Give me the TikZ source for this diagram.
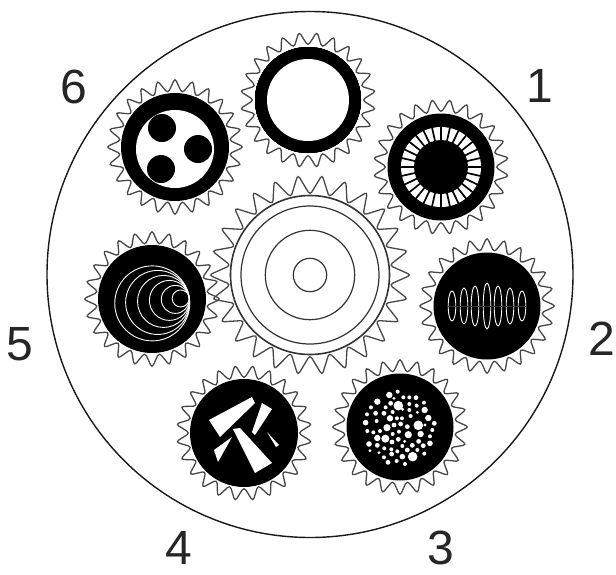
\documentclass[tikz,border=0pt]{standalone}
\usepackage{fontspec}
\setmainfont{Liberation Sans}
\tikzset{gearline/.style={draw=black!72,line width=1.3pt,rounded corners=3.5pt},
ringline/.style={draw=black!80,line width=1.2pt},
disk/.style={fill=black},
hole/.style={fill=white},
thinwhite/.style={draw=white,line width=.9pt},
numlabel/.style={font=\fontsize{48}{54}\selectfont,text=black!85,inner sep=0pt}}
\newcommand{\gearwheel}[6]{\pgfmathtruncatemacro{\lastno}{#5-1}
\draw[gearline,shift={(#1,#2)}] (#6:#3) \foreach \i in {1,...,\lastno}{ -- ({#6+(\i-.5)*360/#5}:#4) -- ({#6+\i*360/#5}:#3)} -- ({#6-180/#5}:#4) -- cycle;}
\begin{document}
\begin{tikzpicture}[x=1pt,y=-1pt]
\useasboundingbox (0,0) rectangle (616,574);
\draw[line width=1.4pt,black!90] (310,274.5) circle [radius=263];
\gearwheel{310}{275}{101}{80}{26}{0}
\foreach \r in {69,44.7,16.7} \draw[ringline] (310,275) circle [radius=\r];
\draw[ringline,line width=1.6pt] (310,275) circle [radius=79.5];
\foreach \x/\y/\a in {308/100/7.5,441/167/7.5,487/306/0,400/427/0,244/433/7.5,152/299/0,175/147/0}
  \gearwheel{\x}{\y}{69}{54}{24}{\a}
\fill[disk] (308,100) circle [radius=53];
\fill[hole] (308,100) circle [radius=41];
\fill[disk] (175,147) circle [radius=54];
\fill[hole] (175,149) circle [radius=39];
\foreach \x/\y in {162/128,198/149,161/169} \fill[disk] (\x,\y) circle [radius=14];
\fill[disk] (441,167) circle [radius=53.5];
\fill[hole] (441,167) circle [radius=40];
\fill[disk] (441,167) circle [radius=27];
\foreach \a in {0,...,27} \draw[black,line width=1.7pt] (441,167) -- ++({\a*360/28}:41);
\fill[disk] (487,306) circle [radius=53.5];
\foreach \x/\h in {452/15,464/18,475/20,487/23,498/20,510/18,522/15}
  \draw[thinwhite] (\x,306) ellipse [x radius=3.8,y radius=\h];
\draw[black!80,line width=.5pt] (447,306) -- (527,306);
\fill[disk] (400,427) circle [radius=53.5];
\begin{scope}[shift={(170,350)},x=.3333pt,y=-.3333pt]
\foreach \x/\y/\r in {658/135/8,683/125/5,700/142/5,718/142/5,738/143/6,622/155/8,672/145/4,685/167/12,662/160/6,647/172/5,718/162/5,740/167/5,762/158/5,764/180/8,603/172/5,617/190/6,591/193/5,668/186/5,642/190/6,698/178/4,718/180/5,742/187/4,775/204/8,722/198/5,587/218/7,620/213/5,660/205/8,681/205/5,696/205/5,745/226/12,793/220/6,765/225/4,787/240/5,672/225/6,692/222/6,712/230/6,651/233/9,630/243/5,592/243/5,610/247/5,622/264/8,646/266/10,668/252/5,687/245/5,715/254/9,752/252/8,780/259/5,597/282/7,622/286/6,600/302/4,643/295/5,666/276/6,685/268/6,704/274/4,727/286/6,746/274/6,760/287/6,780/280/7,664/298/5,682/304/5,697/288/5,712/300/6,742/300/5,627/308/4,642/322/5,665/312/6,697/320/7,728/320/12,763/311/5,654/337/6,680/333/5,705/342/5}
  \fill[hole] (\x,\y) circle [radius=\r*1.2];
\end{scope}
\fill[disk] (244,433) circle [radius=54];
\fill[hole] (209,420) -- (252,397) -- (255,403) -- (220,437) -- cycle;
\fill[hole] (262,403) -- (272,409) -- (255,435) -- (252,432) -- cycle;
\fill[hole] (233,429) -- (240,428) -- (272,463) -- (255,473) -- cycle;
\fill[hole] (267,432) -- (279,445) -- (276,447) -- cycle;
\fill[hole] (232,437) -- (218,462) -- (214,450) -- cycle;
\fill[disk] (152,299) circle [radius=54];
\foreach \r in {37.5,32,26,20,14,8.5}
  \draw[thinwhite] ({189-.98*\r},{297+.17*\r}) circle [radius=\r];
\node[numlabel] (six) at (73.5,86.5) {6};
\node[numlabel] (one) at (540,85.5) {1};
\node[numlabel] (two) at (601.5,338.5) {2};
\node[numlabel] (three) at (441,547.5) {3};
\node[numlabel] (four) at (179,547.5) {4};
\node[numlabel] (five) at (19.5,344.5) {5};
\end{tikzpicture}
\end{document}
